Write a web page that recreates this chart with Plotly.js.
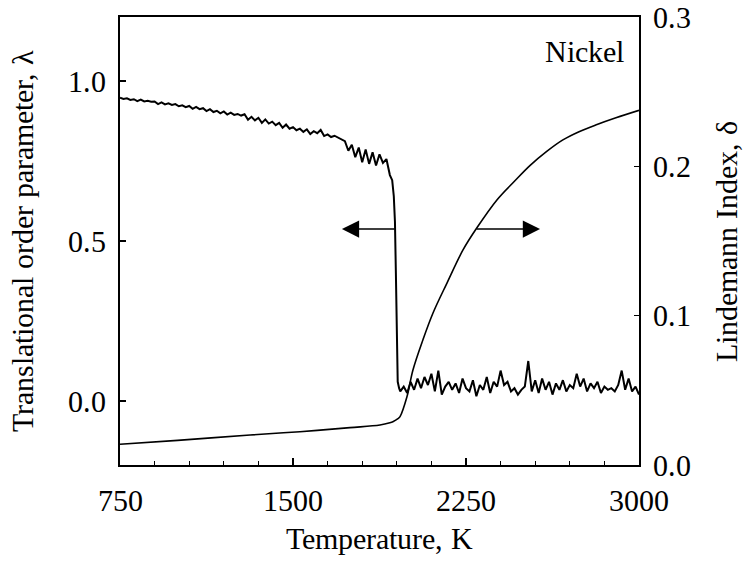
<!DOCTYPE html>
<html lang="en">
<head>
<meta charset="utf-8">
<script src="https://cdn.plot.ly/plotly-3.0.1.min.js"></script>
<style>
@font-face{font-family:'SerifAlias';src:local('Liberation Serif'),local('LiberationSerif'),local('LiberationSerif-Regular'),local('Times New Roman');}
html,body{margin:0;padding:0;background:#fff;font-family:'SerifAlias','Liberation Serif',serif;}
#chart{width:747px;height:567px;}
#chart svg text{font-family:'SerifAlias','Liberation Serif','Times New Roman',serif !important;}
</style>
</head>
<body>
<div id="chart"></div>
<script>
// Translational order parameter (left axis)
var lambdaT = [
 750,765,780,795,810,825,840,855,870,885,900,915,930,945,960,975,990,1005,1020,1035,
 1050,1065,1080,1095,1110,1125,1140,1155,1170,1185,1200,1215,1230,1245,1260,1275,1290,1305,1320,1335,
 1350,1365,1380,1395,1410,1425,1440,1455,1470,1485,1500,1515,1530,1545,1560,1575,1590,1605,1620,1635,
 1650,1665,1680,1695,1710,1725,1740,1755,1770,1785,1800,1815,1830,1845,1860,1875,1890,1905,1920,
 1930,1937,1942,1946,1950,1954,1960,
 1965,1980,1995,2010,2025,2040,2055,2070,2085,2100,2115,2130,2145,2160,2175,2190,2205,2220,2235,2250,
 2265,2280,2295,2310,2325,2340,2355,2370,2385,2400,2415,2430,2445,2460,2475,2490,2505,2520,2535,2550,
 2565,2580,2595,2610,2625,2640,2655,2670,2685,2700,2715,2730,2745,2760,2775,2790,2805,2820,2835,2850,
 2865,2880,2895,2910,2925,2940,2955,2970,2985,3000
];
var lambdaV = [
 .948,.944,.946,.941,.943,.937,.942,.936,.938,.935,.936,.928,.933,.927,.930,.925,.928,.921,.924,.918,
 .922,.913,.919,.912,.915,.906,.912,.903,.907,.899,.905,.895,.901,.894,.897,.892,.896,.879,.888,.877,
 .885,.869,.880,.867,.873,.862,.869,.854,.864,.851,.856,.846,.851,.841,.849,.834,.843,.837,.847,.828,
 .833,.825,.829,.823,.819,.812,.782,.801,.762,.792,.746,.786,.741,.777,.736,.771,.744,.756,.706,
 .690,.640,.560,.400,.200,.060,.040,
 .030,.045,.025,.060,.035,.070,.040,.075,.050,.085,.030,.095,.020,.045,.060,.035,.055,.025,.070,.040,
 .030,.065,.015,.050,.035,.075,.025,.060,.045,.095,.050,.060,.030,.040,.020,.035,.045,.125,.030,.065,
 .025,.070,.035,.060,.020,.055,.035,.065,.030,.050,.040,.085,.045,.070,.030,.055,.040,.060,.025,.045,
 .035,.040,.030,.050,.095,.035,.070,.030,.045,.020
];
// Lindemann index (right axis)
var deltaT = [750,1000,1314,1530,1747,1877,1920,1933,1955,1964,1994,2020,2063,2107,2168,2237,2298,2384,2460,2527,2600,2670,2740,2818,2900,3000];
var deltaV = [0.0139,0.0165,0.0201,0.0223,0.0250,0.0268,0.0283,0.0290,0.0310,0.0324,0.0457,0.0636,0.0837,0.1018,0.1220,0.1440,0.1590,0.1775,0.1900,0.2005,0.2100,0.2177,0.2232,0.2280,0.2325,0.2375];

var xTicks = [750,1500,2250,3000];
var yTicks = [0,0.5,1.0];
var yTickText = ['0.0','0.5','1.0'];
var y2Ticks = [0,0.1,0.2,0.3];
var y2TickText = ['0.0','0.1','0.2','0.3'];

function tf(){ return {family:'Liberation Serif', size:30, color:'#000'}; }

function draw(){
var traces = [
 {x: lambdaT, y: lambdaV, type:'scatter', mode:'lines', line:{color:'#000', width:2}, yaxis:'y', hoverinfo:'skip'},
 {x: deltaT, y: deltaV, type:'scatter', mode:'lines', line:{color:'#000', width:1.6, shape:'spline', smoothing:1}, yaxis:'y2', hoverinfo:'skip'}
];
var layout = {
 width:747, height:567,
 margin:{l:120, r:108, t:17, b:102},
 paper_bgcolor:'#fff', plot_bgcolor:'#fff',
 font:tf(),
 showlegend:false,
 xaxis:{range:[750,3000], tickvals:xTicks, ticktext:xTicks.map(String), ticks:'inside', ticklen:7, tickwidth:1.5, tickcolor:'#000',
   minor:{dtick:150, tick0:750, ticks:'inside', ticklen:4, tickwidth:1, tickcolor:'#000', showgrid:false},
   showline:true, linewidth:2, linecolor:'#000', mirror:true, showgrid:false, zeroline:false,
   tickfont:tf(), ticklabelstandoff:8,
   title:{text:'Temperature, K', font:tf(), standoff:12}, automargin:false},
 yaxis:{range:[-0.2,1.2], tickvals:yTicks, ticktext:yTickText, ticks:'inside', ticklen:6, tickwidth:1.5, tickcolor:'#000',
   showline:true, linewidth:2, linecolor:'#000', showgrid:false, zeroline:false,
   tickfont:tf(), ticklabelstandoff:6,
   title:{text:'Translational order parameter, \u03bb', font:tf(), standoff:26}, automargin:false},
 yaxis2:{range:[0,0.3], overlaying:'y', side:'right', tickvals:y2Ticks, ticktext:y2TickText, ticks:'inside', ticklen:5, tickwidth:1.5, tickcolor:'#000',
   showline:true, linewidth:2, linecolor:'#000', showgrid:false, zeroline:false,
   tickfont:tf(), ticklabelstandoff:6,
   title:{text:'Lindemann Index, \u03b4', font:tf(), standoff:26}, automargin:false},
 annotations:[
  {xref:'x', yref:'y', x:1712, y:0.5375, axref:'x', ayref:'y', ax:1947, ay:0.5375, text:'', showarrow:true, arrowhead:2, arrowsize:2.3, arrowwidth:1.5, arrowcolor:'#000'},
  {xref:'x', yref:'y', x:2571, y:0.5375, axref:'x', ayref:'y', ax:2289, ay:0.5375, text:'', showarrow:true, arrowhead:2, arrowsize:2.3, arrowwidth:1.5, arrowcolor:'#000'},
  {xref:'paper', yref:'paper', x:0.977, y:0.924, xanchor:'right', yanchor:'middle', text:'Nickel', showarrow:false, font:tf()}
 ]
};
Plotly.newPlot('chart', traces, layout, {staticPlot:true});
}
if (document.fonts && document.fonts.load) {
  Promise.all([document.fonts.load('30px "SerifAlias"'), document.fonts.load('30px "Liberation Serif"'), document.fonts.ready]).then(draw, draw);
} else { draw(); }
</script>
</body>
</html>
